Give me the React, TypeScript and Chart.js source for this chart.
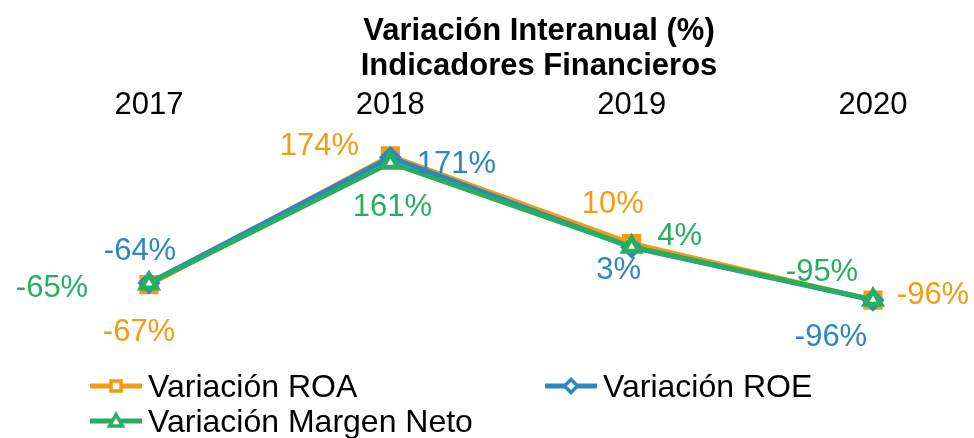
import React, { useEffect, useRef } from 'react';
import { Chart, registerables } from 'chart.js';
Chart.register(...registerables);

const years = ['2017', '2018', '2019', '2020'];
const roa = [-67, 174, 10, -96];
const roe = [-64, 171, 3, -96];
const margen = [-65, 161, 4, -95];
const seriesNames = ['Variación ROA', 'Variación ROE', 'Variación Margen Neto'];
const titleLines = ['Variación Interanual (%)', 'Indicadores Financieros'];

const COLORS = ['#F39C12', '#2E86C1', '#27AE60'];
const FONT = '"Liberation Sans", Arial, sans-serif';
// label offsets (dx, dy) from each point, per series
const LABEL_OFFSETS = [
  [[-10, 45], [-71, -12], [-19, -42], [60, -7]],
  [[-9, -34], [66, 5], [-13, 21], [-42, 35]],
  [[-97, 2], [2, 42], [48, -13], [-51, -30]],
];
// legend placement: [lineStartX, centerY]
const LEGEND_POS = [
  [90, 386],
  [545, 386],
  [90, 421],
];

function drawMarker(ctx: CanvasRenderingContext2D, kind: number, x: number, y: number, s: number, color: string) {
  ctx.save();
  ctx.fillStyle = '#fff';
  ctx.strokeStyle = color;
  ctx.lineWidth = 3.5;
  ctx.beginPath();
  if (kind === 0) {
    ctx.rect(x - s, y - s, 2 * s, 2 * s);
  } else if (kind === 1) {
    ctx.moveTo(x, y - s * 1.3);
    ctx.lineTo(x + s * 1.3, y);
    ctx.lineTo(x, y + s * 1.3);
    ctx.lineTo(x - s * 1.3, y);
    ctx.closePath();
  } else {
    ctx.moveTo(x, y - s * 1.3);
    ctx.lineTo(x + s * 1.3, y + s);
    ctx.lineTo(x - s * 1.3, y + s);
    ctx.closePath();
  }
  ctx.fill();
  ctx.stroke();
  ctx.restore();
}

const overlayPlugin = {
  id: 'overlay',
  afterDatasetsDraw(chart: any) {
    const ctx: CanvasRenderingContext2D = chart.ctx;
    ctx.save();
    ctx.font = `31px ${FONT}`;
    ctx.textAlign = 'center';
    ctx.textBaseline = 'alphabetic';
    chart.data.datasets.forEach((ds: any, i: number) => {
      const meta = chart.getDatasetMeta(i);
      meta.data.forEach((pt: any, j: number) => {
        const [dx, dy] = LABEL_OFFSETS[i][j];
        ctx.fillStyle = COLORS[i];
        ctx.fillText(`${ds.data[j]}%`, pt.x + dx, pt.y + dy + 11);
      });
    });
    ctx.restore();
  },
  afterDraw(chart: any) {
    const ctx: CanvasRenderingContext2D = chart.ctx;
    ctx.save();
    // title
    ctx.font = `bold 31px ${FONT}`;
    ctx.fillStyle = '#000';
    ctx.textAlign = 'center';
    ctx.textBaseline = 'alphabetic';
    ctx.fillText(titleLines[0], 539, 40);
    ctx.fillText(titleLines[1], 539, 75);
    // legend
    ctx.font = `32px ${FONT}`;
    ctx.textAlign = 'left';
    seriesNames.forEach((name, i) => {
      const [x0, cy] = LEGEND_POS[i];
      ctx.strokeStyle = COLORS[i];
      ctx.lineWidth = 5;
      ctx.beginPath();
      ctx.moveTo(x0, cy);
      ctx.lineTo(x0 + 52, cy);
      ctx.stroke();
      drawMarker(ctx, i, x0 + 26, cy, 5, COLORS[i]);
      ctx.fillStyle = '#000';
      ctx.fillText(name, x0 + 58, cy + 11);
    });
    ctx.restore();
  },
};

export default function App() {
  const ref = useRef<HTMLCanvasElement>(null);
  useEffect(() => {
    if (!ref.current) return;
    const mk = (i: number, data: number[], style: string, radius: number, order: number) => ({
      label: seriesNames[i],
      data,
      borderColor: COLORS[i],
      backgroundColor: COLORS[i],
      borderWidth: 5,
      pointStyle: style,
      pointRadius: radius,
      pointBorderWidth: 5,
      pointBackgroundColor: '#fff',
      pointBorderColor: COLORS[i],
      clip: false,
      order,
      tension: 0,
    });
    const chart = new Chart(ref.current, {
      type: 'line',
      data: {
        labels: years,
        datasets: [
          mk(0, roa, 'rect', 10, 2),
          mk(1, roe, 'rectRot', 8, 1),
          mk(2, margen, 'triangle', 9, 0),
        ] as any,
      },
      options: {
        responsive: false,
        animation: false,
        layout: { padding: { left: 149, right: 101, top: 82, bottom: 125 } },
        plugins: {
          legend: { display: false },
          title: { display: false },
          tooltip: { enabled: false },
        },
        scales: {
          x: {
            position: 'top',
            offset: false,
            grid: { display: false, drawTicks: false },
            border: { display: false },
            ticks: { font: { size: 31, family: FONT }, color: '#000', padding: 18, maxRotation: 0 },
            afterFit: (s: any) => { s.height = 60; },
          },
          y: { display: false, min: -120, max: 200 },
        },
      } as any,
      plugins: [overlayPlugin],
    });
    return () => chart.destroy();
  }, []);
  return (
    <div style={{ position: 'absolute', left: 0, top: 0, width: 974, height: 438, background: '#fff' }}>
      <canvas ref={ref} width={974} height={438} style={{ width: 974, height: 438, display: 'block' }} />
    </div>
  );
}
